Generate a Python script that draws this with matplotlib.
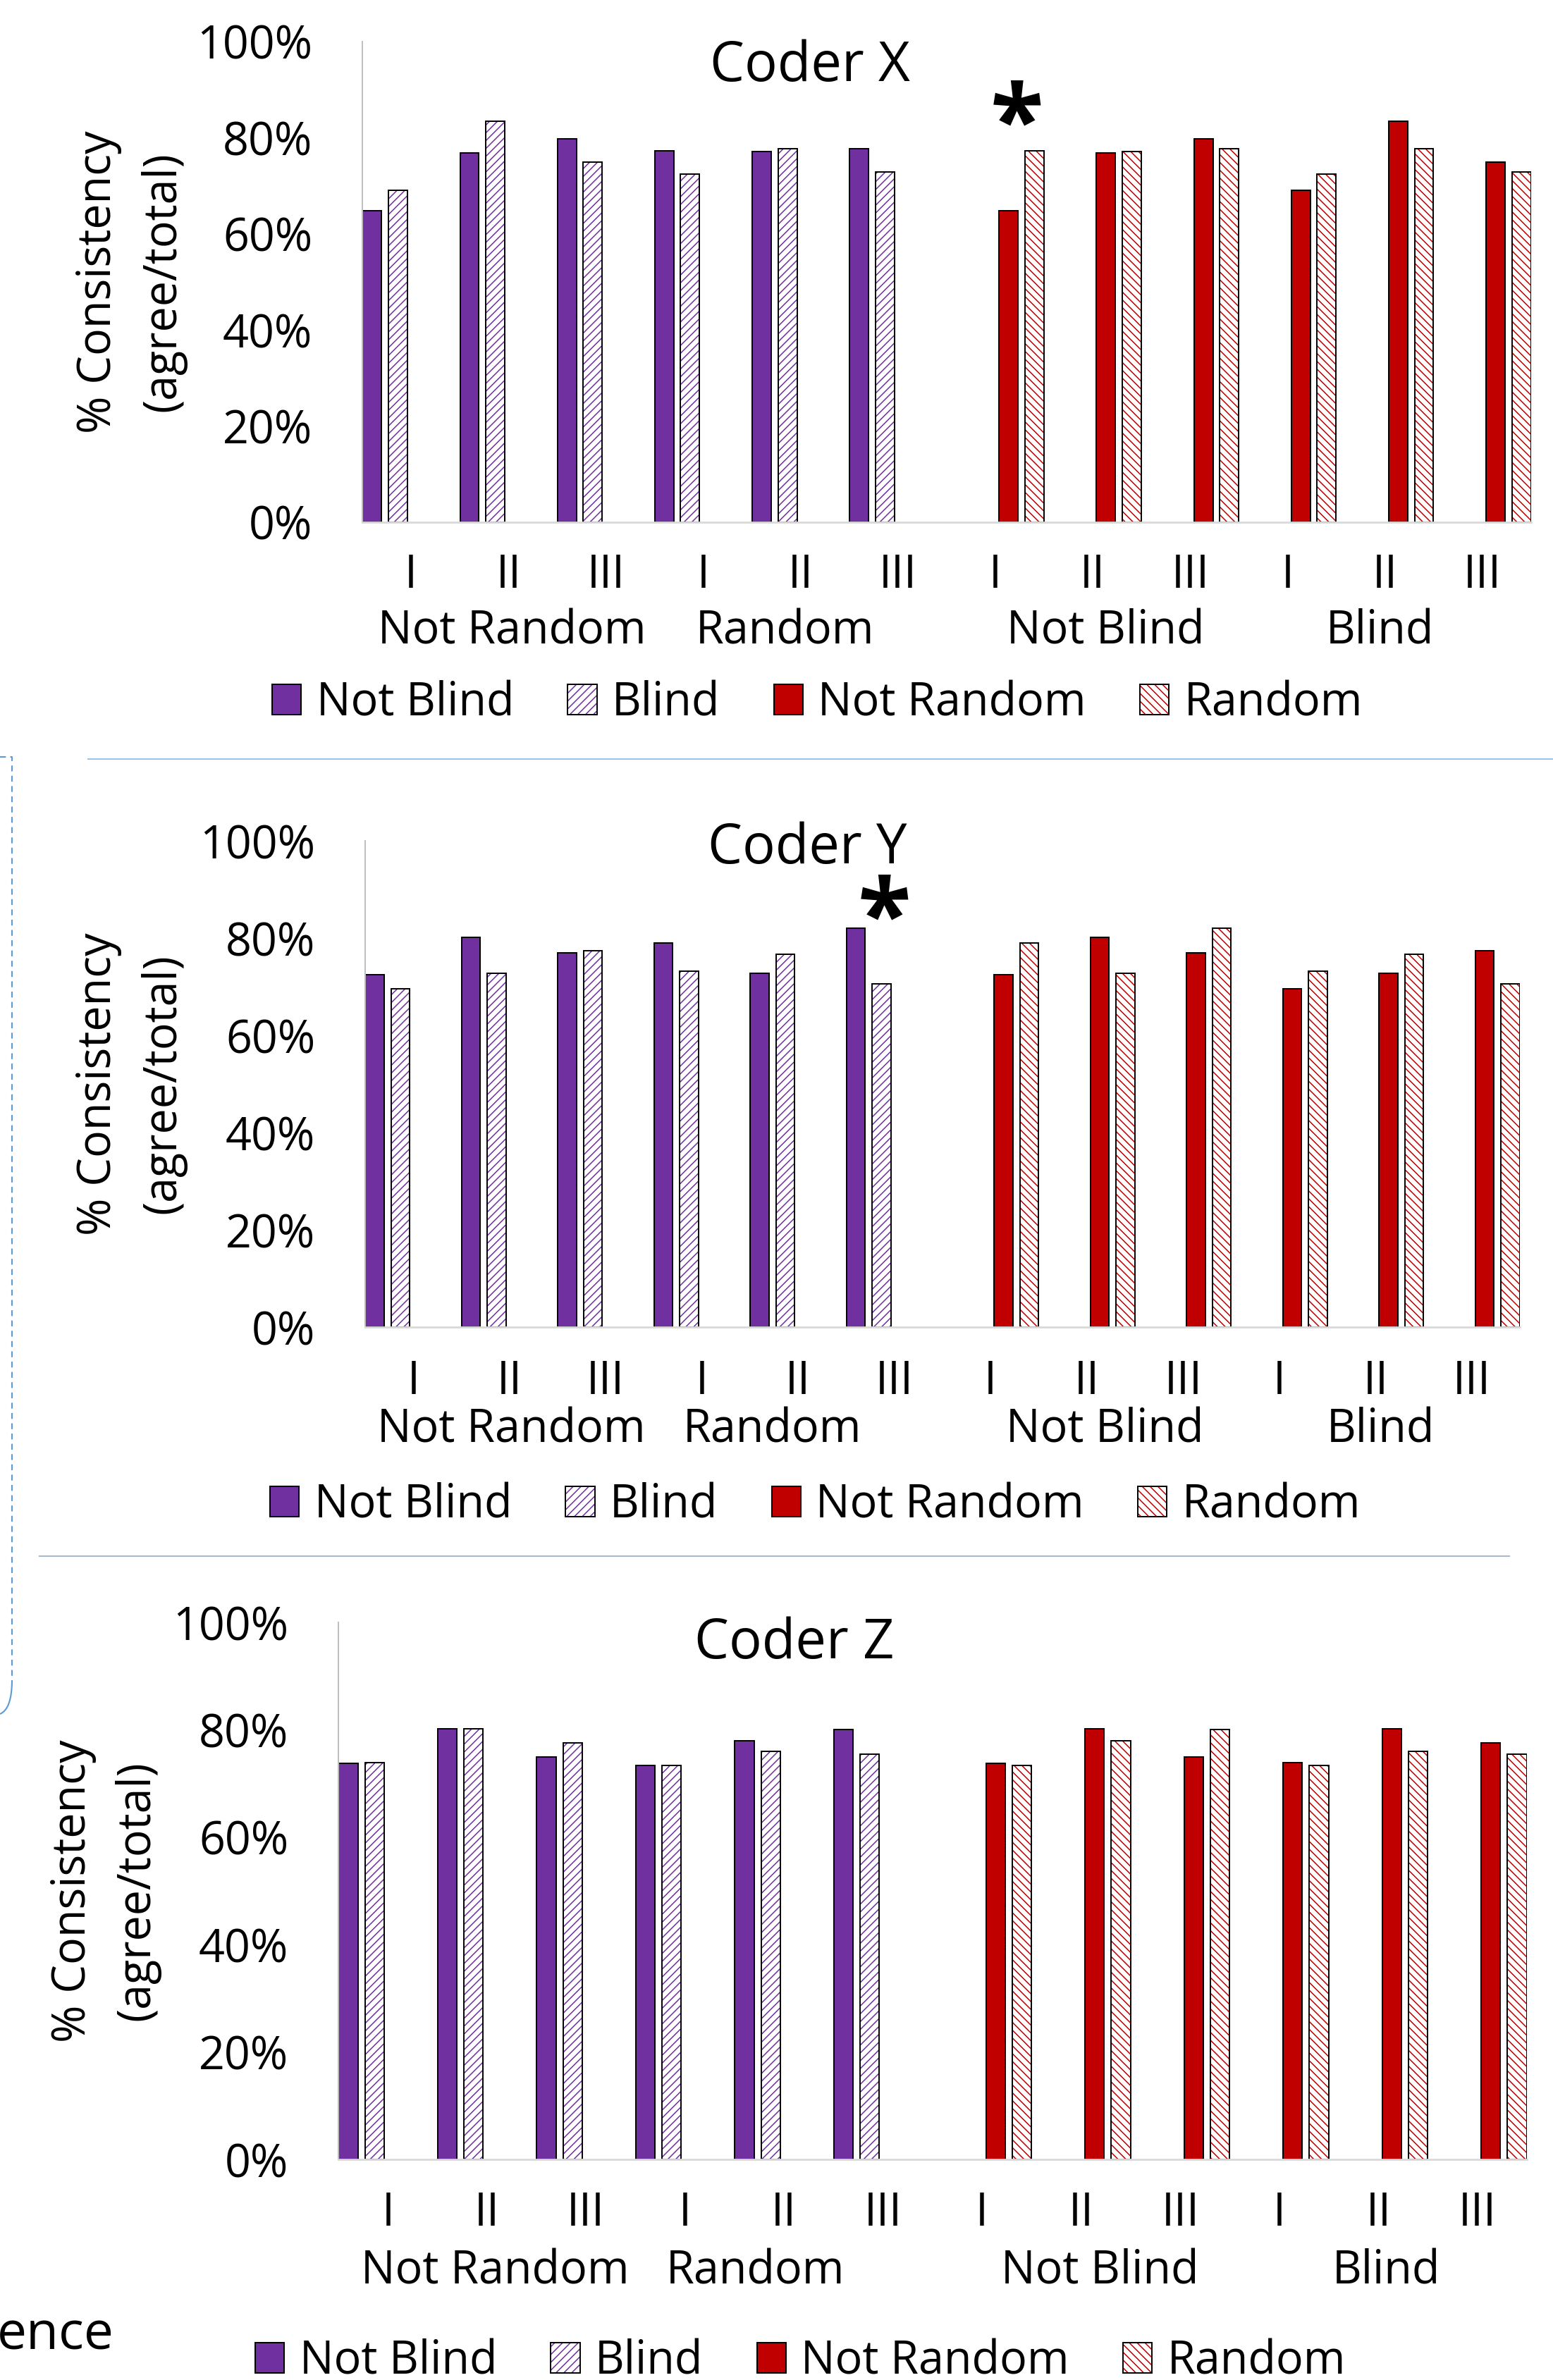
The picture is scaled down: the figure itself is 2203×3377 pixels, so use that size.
import numpy as np
import matplotlib
matplotlib.use('Agg')
import matplotlib.pyplot as plt
import matplotlib.transforms as mtransforms
from matplotlib.patches import Patch, PathPatch
from matplotlib.path import Path
from matplotlib.lines import Line2D
from matplotlib.legend_handler import HandlerTuple

plt.rcParams['font.family'] = ['Open Sans', 'DejaVu Sans']
plt.rcParams['hatch.linewidth'] = 1.1

# ---- data (percent consistency) ----
levels = ['I', 'II', 'III'] * 4
group_names = ['Not Random', 'Random', 'Not Blind', 'Blind']
series_names = ['Not Blind', 'Blind', 'Not Random', 'Random']

# Coder X
not_blind_x = [64.8, 76.9, 79.7, 77.3, 77.1, 77.7]
blind_x = [69.1, 83.5, 74.9, 72.5, 77.7, 72.9]
not_random_x = [64.8, 76.9, 79.7, 69.1, 83.5, 74.9]
random_x = [77.3, 77.1, 77.7, 72.5, 77.7, 72.9]

# Coder Y
not_blind_y = [72.4, 80.1, 77.0, 79.0, 72.8, 82.0]
blind_y = [69.6, 72.8, 77.4, 73.2, 76.6, 70.6]
not_random_y = [72.4, 80.1, 77.0, 69.6, 72.8, 77.4]
random_y = [79.0, 72.8, 82.0, 73.2, 76.6, 70.6]

# Coder Z
not_blind_z = [73.7, 80.2, 75.0, 73.3, 78.0, 80.0]
blind_z = [73.9, 80.2, 77.6, 73.3, 76.0, 75.4]
not_random_z = [73.7, 80.2, 75.0, 73.9, 80.2, 77.6]
random_z = [73.3, 78.0, 80.0, 73.3, 76.0, 75.4]

PURPLE = '#7030A0'
RED = '#C00000'
FS = 46.5

W, H = 2203, 3377
fig = plt.figure(figsize=(W / 100, H / 100), dpi=100)


def fx(px):
    return px / W


def fy(py):
    return 1 - py / H


def draw_panel(title, nb, bl, nr, rd, box, cat_base, grp_base, grp_x,
               leg_x, leg_y, title_x, title_base, ylab_x, star=None):
    left, right, top, bottom = box
    ax = fig.add_axes([fx(left), fy(bottom), (right - left) / W, (bottom - top) / H])
    xp = np.arange(6)
    xr = np.arange(6, 12)
    bw = 0.195

    ax.bar(xp - 0.40, nb, width=bw, color=PURPLE, edgecolor='black', linewidth=1.4)
    ax.bar(xp - 0.135, bl, width=bw, color='white', edgecolor=PURPLE, hatch='///', linewidth=0)
    ax.bar(xp - 0.135, bl, width=bw, fill=False, edgecolor='black', linewidth=1.4)
    ax.bar(xr + 0.135, nr, width=bw, color=RED, edgecolor='black', linewidth=1.4)
    ax.bar(xr + 0.40, rd, width=bw, color='white', edgecolor=RED, hatch='\\\\\\', linewidth=0)
    ax.bar(xr + 0.40, rd, width=bw, fill=False, edgecolor='black', linewidth=1.4)

    ax.set_xlim(-0.5, 11.5)
    ax.set_ylim(0, 100)
    ax.set_yticks(range(0, 101, 20), [f'{v}%' for v in range(0, 101, 20)])
    ax.set_xticks([])
    ax.tick_params(axis='y', length=0, pad=51, labelsize=FS)
    for s in ['top', 'right']:
        ax.spines[s].set_visible(False)
    ax.spines['left'].set_color('#BFBFBF')
    ax.spines['left'].set_linewidth(1.4)
    ax.spines['bottom'].set_color('#D9D9D9')
    ax.spines['bottom'].set_linewidth(2)

    trans = mtransforms.blended_transform_factory(ax.transData, fig.transFigure)
    for i, lv in enumerate(levels):
        ax.text(i, fy(cat_base), lv, transform=trans, ha='center', va='baseline', fontsize=FS)
    for gx, g in zip(grp_x, group_names):
        ax.text(gx, fy(grp_base), g, transform=trans, ha='center', va='baseline', fontsize=FS)

    fig.text(fx(title_x), fy(title_base), title, ha='center', va='baseline', fontsize=56)

    ymid = (top + bottom) / 2
    fig.text(fx(ylab_x[0]), fy(ymid), '% Consistency', rotation=90,
             ha='center', va='center', fontsize=FS)
    fig.text(fx(ylab_x[1]), fy(ymid), '(agree/total)', rotation=90,
             ha='center', va='center', fontsize=FS)

    if star is not None:
        fig.text(fx(star[0]), fy(star[1] + 69), '*', ha='center', va='baseline',
                 fontsize=100, fontweight='bold')

    handles = [
        Patch(facecolor=PURPLE, edgecolor='black', linewidth=1.4),
        (Patch(facecolor='white', edgecolor=PURPLE, hatch='///', linewidth=0),
         Patch(fill=False, edgecolor='black', linewidth=1.4)),
        Patch(facecolor=RED, edgecolor='black', linewidth=1.4),
        (Patch(facecolor='white', edgecolor=RED, hatch='\\\\\\', linewidth=0),
         Patch(fill=False, edgecolor='black', linewidth=1.4)),
    ]
    fig.legend(handles, series_names, loc='center left',
               bbox_to_anchor=(fx(leg_x), fy(leg_y)), ncol=4, frameon=False,
               fontsize=FS, handlelength=0.64, handleheight=0.64,
               handletextpad=0.33, columnspacing=1.18, borderpad=0, borderaxespad=0,
               handler_map={tuple: HandlerTuple(ndivide=1, pad=0)})
    return ax


draw_panel('Coder X', not_blind_x, blind_x, not_random_x, random_x,
           box=(514, 2172, 59, 741), cat_base=834, grp_base=913,
           grp_x=[1.04, 3.84, 7.13, 9.95], leg_x=386, leg_y=998,
           title_x=1149, title_base=115, ylab_x=(140, 231), star=(1443, 149))

draw_panel('Coder Y', not_blind_y, blind_y, not_random_y, random_y,
           box=(518, 2156, 1193, 1883), cat_base=1978, grp_base=2046,
           grp_x=[1.02, 3.73, 7.19, 10.05], leg_x=383, leg_y=2136,
           title_x=1145, title_base=1225, ylab_x=(140, 231), star=(1255, 1276))

draw_panel('Coder Z', not_blind_z, blind_z, not_random_z, random_z,
           box=(480, 2166, 2302, 3064), cat_base=3158, grp_base=3240,
           grp_x=[1.08, 3.71, 7.19, 10.08], leg_x=362, leg_y=3351,
           title_x=1127, title_base=2353, ylab_x=(104, 194))

# separators and leftover slide decorations
fig.add_artist(Line2D([fx(125), fx(2203)], [fy(1077), fy(1077)], color='#9DC3E6', lw=1.5))
fig.add_artist(Line2D([fx(56), fx(2141)], [fy(2208), fy(2208)], color='#A9B8CC', lw=1.5))
fig.add_artist(Line2D([fx(0), fx(17), fx(17)], [fy(1074), fy(1074), fy(2378)],
                      color='#5B9BD5', lw=1.5, linestyle=(0, (4, 3))))
curve = Path([(fx(17), fy(2384)), (fx(17), fy(2425)), (fx(0), fy(2432))],
             [Path.MOVETO, Path.CURVE3, Path.CURVE3])
fig.add_artist(PathPatch(curve, transform=fig.transFigure, fill=False,
                         edgecolor='#5B9BD5', lw=1.5))
fig.text(fx(-4), fy(3333), 'ence', ha='left', va='baseline', fontsize=54)

fig.savefig('out.png', dpi=100)
